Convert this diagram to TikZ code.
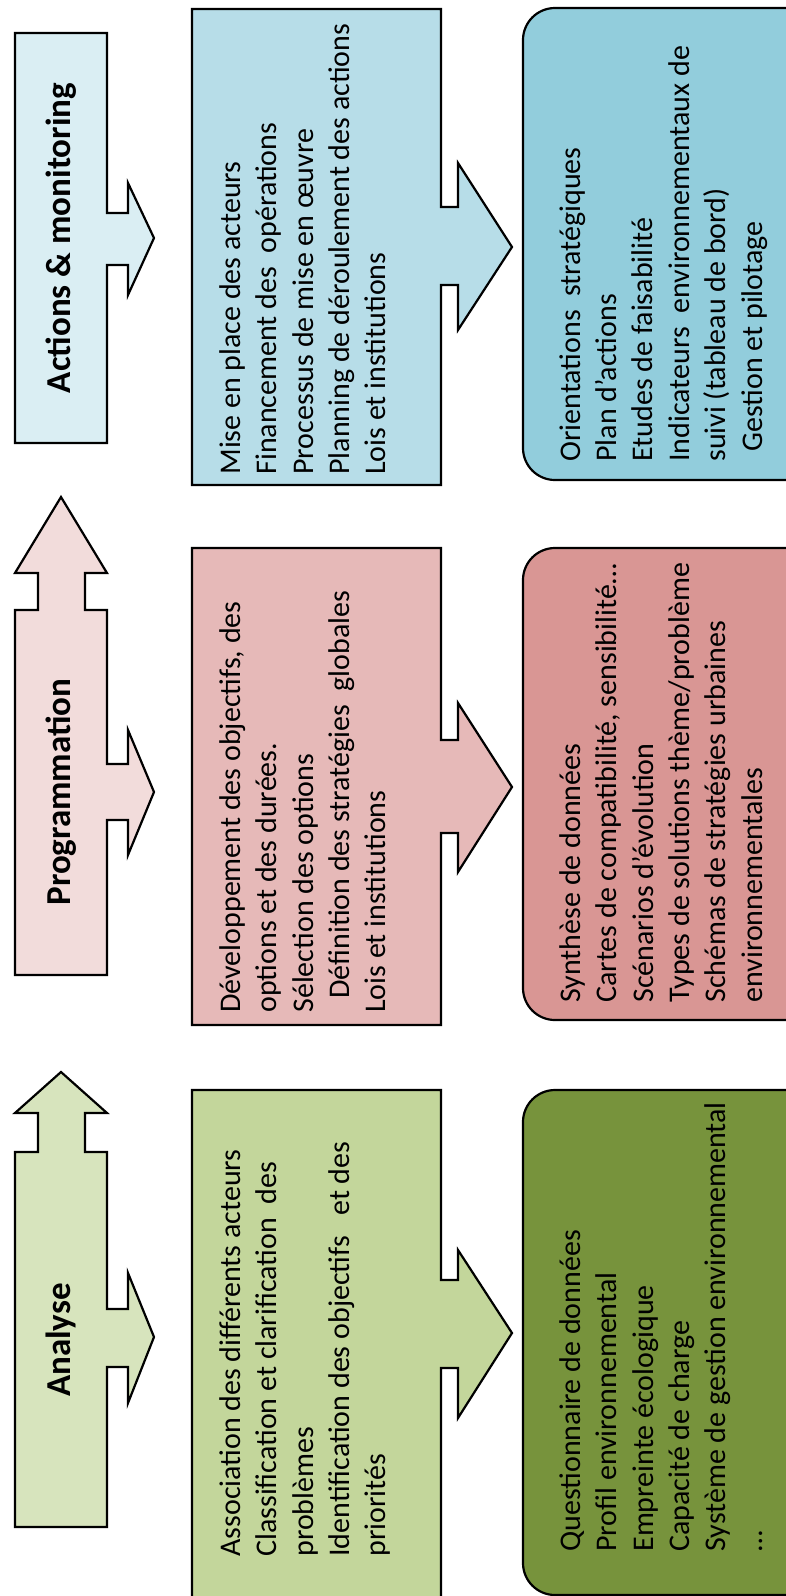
\documentclass[tikz,border=0pt]{standalone}
\usepackage{fontspec}
\setmainfont{Carlito}
\usetikzlibrary{positioning}

% Office palette
\definecolor{blueA}{HTML}{DAEEF3}
\definecolor{blueB}{HTML}{B7DDE8}
\definecolor{blueC}{HTML}{92CDDC}
\definecolor{pinkA}{HTML}{F2DCDB}
\definecolor{pinkB}{HTML}{E6B9B8}
\definecolor{pinkC}{HTML}{D99694}
\definecolor{greenA}{HTML}{D7E4BD}
\definecolor{greenB}{HTML}{C3D69B}
\definecolor{greenC}{HTML}{77933C}

\begin{document}
\begin{tikzpicture}[
    x=0.5pt, y=-0.5pt,
    outline/.style={draw=black, line width=1.1pt, line join=miter},
    resbox/.style={outline, rounded corners=16pt},
    phase/.style={rotate=90, font=\fontsize{17.5}{21}\selectfont\bfseries, inner sep=0pt},
    items/.style={rotate=90, anchor=north west, align=left, inner sep=0pt,
                  font=\fontsize{15}{18.2}\selectfont}
]
\useasboundingbox (0,0) rectangle (786,1596);
\clip (0,0) rectangle (786,1596);

% phase banners (block arrows)
\draw[outline, fill=blueA] (15,443) -- (15,33) -- (107,33) -- (107,213) -- (128,213) -- (128,183)
    -- (154,238) -- (128,295) -- (128,265) -- (107,265) -- (107,443) -- cycle;
\draw[outline, fill=pinkA] (15,975) -- (15,610) -- (38,610) -- (38,573) -- (15,573) -- (61,497)
    -- (107,573) -- (85,573) -- (85,610) -- (107,610) -- (107,764) -- (128,764) -- (128,730)
    -- (154,792) -- (128,855) -- (128,820) -- (107,820) -- (107,975) -- cycle;
\draw[outline, fill=greenA] (15,1527) -- (15,1152) -- (38,1152) -- (38,1113) -- (15,1113) -- (61,1072)
    -- (107,1113) -- (85,1113) -- (85,1152) -- (107,1152) -- (107,1309) -- (128,1309) -- (128,1273)
    -- (154,1337) -- (128,1403) -- (128,1367) -- (107,1367) -- (107,1527) -- cycle;

\node[phase] (actions) at (61,238) {Actions \& monitoring};
\node[phase] (programmation) at (61,792) {Programmation};
\node[phase] (analyse) at (61,1340) {Analyse};

% content boxes with their arrows
\draw[outline, fill=blueB] (192,485) -- (192,9) -- (441,9) -- (441,207) -- (458,207) -- (458,163)
    -- (512,247) -- (458,330) -- (458,285) -- (441,285) -- (441,485) -- cycle;
\draw[outline, fill=pinkB] (192,1025) -- (192,548) -- (441,548) -- (441,740) -- (458,740) -- (458,703)
    -- (512,787) -- (458,872) -- (458,833) -- (441,833) -- (441,1025) -- cycle;
\draw[outline, fill=greenB] (192,1640) -- (192,1090) -- (441,1090) -- (441,1280) -- (458,1280) -- (458,1250)
    -- (512,1333) -- (458,1418) -- (458,1368) -- (441,1368) -- (441,1640) -- cycle;

\node[items] (miseplace) at (219,475) {Mise en place des acteurs\\
    Financement des\ \ opérations\\
    Processus de mise en œuvre\\
    Planning de déroulement des actions\\
    Lois et institutions};
\node[items] (objectifs) at (219,1013) {Développement des objectifs, des\\
    options et des durées.\\
    Sélection des options\\
    \hspace{7pt}Définition des stratégies\ \ globales\\
    Lois et institutions};
\node[items] (acteurs) at (219,1557) {Association des différents acteurs\\
    Classification et clarification\ \ des\\
    problèmes\\
    Identification des objectifs\ \ \ et des\\
    priorités};

% outputs
\draw[resbox, fill=blueC] (523,8) rectangle (820,480);
\draw[resbox, fill=pinkC] (523,548) rectangle (820,1020);
\draw[resbox, fill=greenC] (523,1090) rectangle (820,1595);

\node[items] (orientations) at (559,462) {Orientations\ \ stratégiques\\
    Plan d’actions\\
    Etudes de faisabilité\\
    Indicateurs\ \ environnementaux de\\
    suivi (tableau de bord)\\
    \hspace{5pt}Gestion et pilotage};
\node[items] (synthese) at (559,1003) {Synthèse de données\\
    Cartes de compatibilité, sensibilité…\\
    Scénarios d’évolution\\
    Types de solutions thème/problème\\
    Schémas de stratégies urbaines\\
    environnementales};
\node[items] (questionnaire) at (559,1552) {Questionnaire de données\\
    Profil environnemental\\
    Empreinte écologique\\
    Capacité de charge\\
    Système de gestion environnemental\\
    …};
\end{tikzpicture}
\end{document}
